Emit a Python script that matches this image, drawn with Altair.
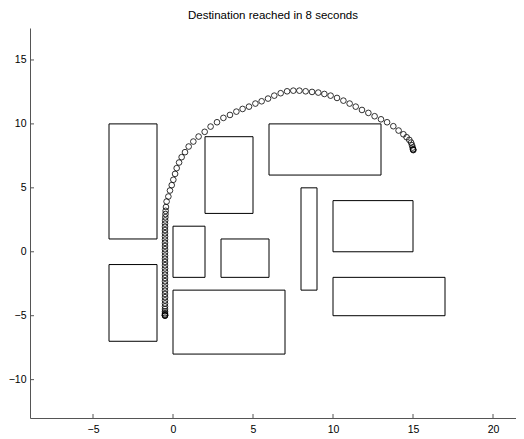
import altair as alt
import pandas as pd

# Obstacles (rectangles)
rect_x1 = [-4, -4, 0, 3, 0, 2, 6, 8, 10, 10]
rect_x2 = [-1, -1, 2, 6, 7, 5, 13, 9, 15, 17]
rect_y1 = [1, -7, -2, -2, -8, 3, 6, -3, 0, -5]
rect_y2 = [10, -1, 2, 1, -3, 9, 10, 5, 4, -2]

# Path (robot positions)
path_x = [-0.5, -0.5, -0.5, -0.5, -0.5, -0.5, -0.5, -0.5, -0.5, -0.5,
          -0.5, -0.5, -0.5, -0.5, -0.5, -0.5, -0.5, -0.5, -0.5, -0.5,
          -0.5, -0.5, -0.5, -0.5, -0.5, -0.5, -0.5, -0.5, -0.5, -0.5,
          -0.5, -0.5, -0.5, -0.5, -0.49, -0.48, -0.47, -0.46, -0.44,
          -0.40, -0.29, -0.19, -0.08, 0.02, 0.13, 0.23, 0.38, 0.54, 0.75,
          0.98, 1.27, 1.60, 1.98, 2.35, 2.75, 3.15, 3.56, 3.96, 4.35,
          4.75, 5.15, 5.54, 5.94, 6.33, 6.73, 7.13, 7.52, 7.90, 8.29,
          8.69, 9.08, 9.46, 9.85, 10.25, 10.65, 11.04, 11.42, 11.81, 12.21,
          12.60, 13.00, 13.38, 13.77, 14.10, 14.40, 14.60, 14.77, 14.88, 14.94,
          14.98, 15.00, 15.01, 15.02]
path_y = [-5.0, -4.99, -4.96, -4.90, -4.80, -4.66, -4.48, -4.27, -4.04, -3.80,
          -3.55, -3.30, -3.05, -2.80, -2.55, -2.30, -2.05, -1.80, -1.55, -1.30,
          -1.05, -0.80, -0.55, -0.30, -0.05, 0.20, 0.45, 0.70, 0.95, 1.20,
          1.45, 1.70, 1.95, 2.20, 2.45, 2.70, 2.95, 3.20, 3.50,
          3.93, 4.32, 4.79, 5.21, 5.63, 6.09, 6.54, 6.98, 7.40, 7.79,
          8.23, 8.62, 9.01, 9.38, 9.79, 10.13, 10.47, 10.70, 10.96, 11.17,
          11.35, 11.59, 11.77, 11.98, 12.21, 12.40, 12.55, 12.60, 12.60, 12.55,
          12.50, 12.45, 12.34, 12.21, 12.03, 11.82, 11.59, 11.35, 11.09, 10.86,
          10.60, 10.36, 10.13, 9.82, 9.48, 9.19, 8.96, 8.75, 8.54, 8.33,
          8.15, 8.02, 7.98, 7.95]

x_ticks = [-5, 0, 5, 10, 15, 20]
y_ticks = [-10, -5, 0, 5, 10, 15]
x_domain = [-8.9375, 21.4375]
y_domain = [-13, 17.5]

FONT = "Liberation Sans"
W, H = 486, 390
AXIS_GREY = "#555555"

rects = pd.DataFrame({"x1": rect_x1, "x2": rect_x2, "y1": rect_y1, "y2": rect_y2})
path = pd.DataFrame({"x": path_x, "y": path_y})
xt = pd.DataFrame({"v": x_ticks})
yt = pd.DataFrame({"v": y_ticks})

xscale = alt.Scale(domain=x_domain, nice=False, zero=False)
yscale = alt.Scale(domain=y_domain, nice=False, zero=False)
xaxis = alt.Axis(values=x_ticks, title=None, grid=False, ticks=False,
                 labelPadding=6, labelFlush=False)
yaxis = alt.Axis(values=y_ticks, title=None, grid=False, ticks=False,
                 labelPadding=4, labelFlush=False)

rect_layer = alt.Chart(rects).mark_rect(filled=False, color="black", strokeWidth=1).encode(
    x=alt.X("x1:Q", scale=xscale, axis=xaxis),
    x2="x2:Q",
    y=alt.Y("y1:Q", scale=yscale, axis=yaxis),
    y2="y2:Q",
)

path_layer = alt.Chart(path).mark_point(shape="circle", filled=False, color="black",
                                        size=32, strokeWidth=0.8, opacity=1).encode(
    x=alt.X("x:Q", scale=xscale),
    y=alt.Y("y:Q", scale=yscale),
)

xtick_layer = alt.Chart(xt).mark_rule(color=AXIS_GREY, strokeWidth=1).encode(
    x=alt.X("v:Q", scale=xscale),
    y=alt.value(H),
    y2=alt.value(H - 4),
)
ytick_layer = alt.Chart(yt).mark_rule(color=AXIS_GREY, strokeWidth=1).encode(
    y=alt.Y("v:Q", scale=yscale),
    x=alt.value(0),
    x2=alt.value(4),
)

chart = alt.layer(rect_layer, path_layer, xtick_layer, ytick_layer).properties(
    width=W, height=H,
    title=alt.TitleParams("Destination reached in 8 seconds", font=FONT, fontSize=11.5,
                          fontWeight="normal", anchor="middle", offset=7, color="black"),
    autosize=alt.AutoSizeParams(type="none"),
    padding={"left": 22, "top": 20, "right": 0, "bottom": 20},
).configure_view(strokeWidth=0).configure_axis(
    domainColor=AXIS_GREY, domainWidth=1, labelFont=FONT, labelFontSize=10.5, labelColor="black",
)

chart.save("out.html", embed_options={"renderer": "svg", "actions": False})
